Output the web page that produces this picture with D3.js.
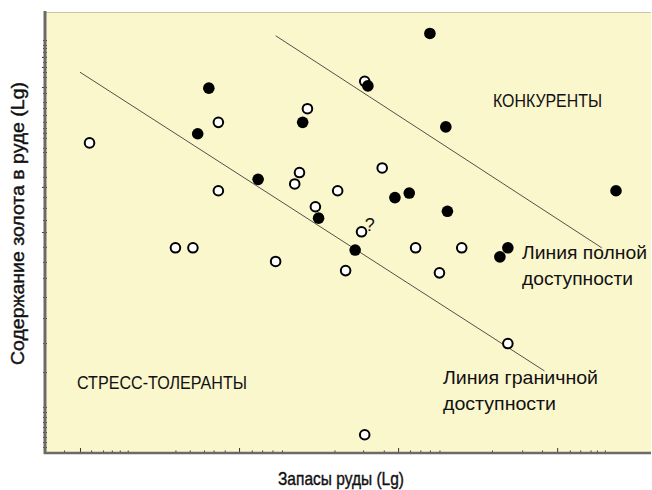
<!DOCTYPE html>
<html><head><meta charset="utf-8">
<script src="https://cdn.jsdelivr.net/npm/d3@7"></script>
<style>
html,body{margin:0;padding:0;background:#fff;}
text{font-family:'Liberation Sans','Arimo',Arial,sans-serif;fill:#111;}
</style></head>
<body>
<svg id="c" width="652" height="490"></svg>
<script>
// Data (log units)
const openX  = [1.06,1.87,1.87,1.60,1.71,2.23,2.43,2.38,2.35,2.48,2.62,2.79,2.90,2.77,2.67,3.11,3.26,3.40,3.69,2.79];
const openY  = [1.36,1.45,1.15,0.90,0.90,0.84,1.51,1.23,1.18,1.08,1.15,1.63,1.25,0.97,0.80,0.90,0.79,0.90,0.48,0.08];
const fillX  = [1.81,1.74,2.12,2.40,2.50,2.81,2.98,3.07,3.31,2.73,3.64,3.69,3.20,3.30,4.37];
const fillY  = [1.60,1.40,1.20,1.45,1.03,1.61,1.12,1.14,1.06,0.89,0.86,0.90,1.84,1.43,1.15];
const lineBorder = {x:[1.00,3.92], y:[1.67,0.36]};   // граничной доступности
const lineFull   = {x:[2.23,4.28], y:[1.83,0.90]};   // полной доступности
const xMajor = [1,2,3,4];
const xMinor = [0.90,1.07,1.145,1.20,1.25,1.30,1.60,1.69,1.78,1.84,1.91,2.08,2.145,2.21,2.27,2.60,2.78,2.91,3.075,3.14,3.20,3.26,3.59,3.78,3.905,4.08,4.145,4.21,4.25,4.30];
const yTicks = [1.811,1.789,1.776,1.759,1.737,1.715,1.693,1.671,1.649,1.605,1.579,1.539,1.513,1.482,1.452,1.425,1.404,1.382,1.338,1.320,1.254,1.211,1.167,1.123,1.075,1.022,0.969,0.904,0.838,0.768,0.684,0.592,0.482,0.355,0.202,0.180,0.158,0.136,0.114,0.092,0.070,0.048,0.026];
const yMajor = [1.737,1.693,1.605,1.167,0.969];
const xTitle = "Запасы руды (Lg)";
const yTitle = "Содержание золота в руде (Lg)";

const svg = d3.select("#c");
const L=45, R=651, T=12, B=453;
const x = d3.scaleLinear().domain([0.78,4.59]).range([L,R]);
const y = d3.scaleLinear().domain([0,1.934]).range([B,T]);

svg.append("rect").attr("x",L).attr("y",T).attr("width",R-L).attr("height",B-T)
  .attr("fill","#fbf7cd").attr("stroke","none");
svg.append("line").attr("x1",L).attr("x2",R).attr("y1",T+0.5).attr("y2",T+0.5).attr("stroke","#c9c6a8").attr("stroke-width",1);

// lines
[lineBorder,lineFull].forEach(l=>{
  svg.append("line").attr("x1",x(l.x[0])).attr("y1",y(l.y[0])).attr("x2",x(l.x[1])).attr("y2",y(l.y[1]))
    .attr("stroke","#555045").attr("stroke-width",1);
});

// question mark
svg.append("text").attr("x",x(2.79)+5).attr("y",y(0.97)-1).attr("text-anchor","middle")
  .attr("font-size",18).text("?");

// points
svg.selectAll("circle.o").data(openX.map((v,i)=>[v,openY[i]])).join("circle")
  .attr("cx",d=>x(d[0])).attr("cy",d=>y(d[1])).attr("r",4.8)
  .attr("fill","#fff").attr("stroke","#000").attr("stroke-width",2);
svg.selectAll("circle.f").data(fillX.map((v,i)=>[v,fillY[i]])).join("circle")
  .attr("cx",d=>x(d[0])).attr("cy",d=>y(d[1])).attr("r",5.8)
  .attr("fill","#000");

// axes
const ax = svg.append("g").attr("transform",`translate(0,${B})`);
ax.call(d3.axisBottom(x).tickValues(xMajor).tickSize(-5).tickFormat(""));
ax.append("g").call(d3.axisBottom(x).tickValues(xMinor).tickSize(-2.5).tickFormat(""));
ax.selectAll(".domain").remove();
ax.selectAll("line").attr("stroke","#333");
const ay = svg.append("g").attr("transform",`translate(${L+2},0)`);
ay.call(d3.axisLeft(y).tickValues(yTicks).tickSize(4).tickFormat(""));
ay.append("g").call(d3.axisLeft(y).tickValues(yMajor).tickSize(5).tickFormat(""));
ay.selectAll(".domain").remove();
ay.selectAll("line").attr("stroke","#333");
svg.append("line").attr("x1",L).attr("x2",L).attr("y1",T-1).attr("y2",B+1).attr("stroke","#6a6a6a").attr("stroke-width",3);
svg.append("line").attr("x1",L-1).attr("x2",R).attr("y1",B).attr("y2",B).attr("stroke","#6a6a6a").attr("stroke-width",2.5);

// labels (condensed via textLength)
const lab = (t,xx,yy,size,w)=>svg.append("text").attr("x",xx).attr("y",yy).attr("font-size",size)
  .attr("textLength",w).attr("lengthAdjust","spacingAndGlyphs").text(t);
lab("КОНКУРЕНТЫ", 493, 107, 18, 109);
lab("СТРЕСС-ТОЛЕРАНТЫ", 77, 389, 18, 170);
lab("Линия полной", 522, 259, 19, 125);
lab("доступности", 522, 285, 19, 111);
lab("Линия граничной", 443, 384, 19, 155);
lab("доступности", 443, 410, 19, 113);

svg.append("text").attr("x",278).attr("y",485).attr("font-size",19)
  .attr("stroke","#111").attr("stroke-width",0.4)
  .attr("textLength",126).attr("lengthAdjust","spacingAndGlyphs").text(xTitle);
svg.append("text").attr("transform","translate(24,365) rotate(-90)")
  .attr("font-size",19).attr("stroke","#111").attr("stroke-width",0.4)
  .attr("textLength",283).attr("lengthAdjust","spacingAndGlyphs").text(yTitle);
</script>
</body></html>
